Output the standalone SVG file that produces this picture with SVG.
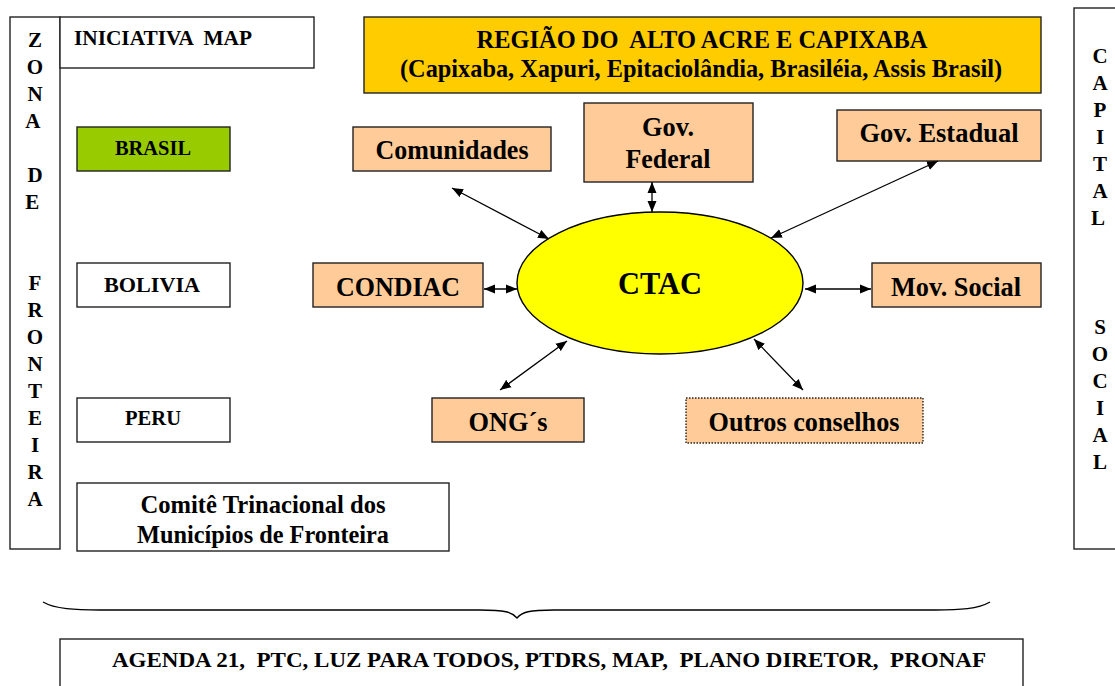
<svg xmlns="http://www.w3.org/2000/svg" width="1115" height="686" viewBox="0 0 1115 686">
<style>
  .box{stroke:#222;stroke-width:1.4;}
  .plain{fill:#fff;}
  .peach{fill:#FFCC99;}
  .t{font-family:"Liberation Serif","Times New Roman",serif;font-weight:bold;fill:#000;text-anchor:middle;}
  .s20{font-size:20px;}
  .s21{font-size:21px;}
  .s22{font-size:22px;}
  .s25{font-size:25px;}
  .s28{font-size:28px;}
  .s31{font-size:31px;}
  .conn line{stroke:#000;stroke-width:1.3;marker-start:url(#ah);marker-end:url(#ah);}
</style>
<defs>
  <marker id="ah" markerUnits="userSpaceOnUse" markerWidth="12" markerHeight="10" refX="11" refY="4.5" orient="auto-start-reverse" viewBox="0 0 12 9">
    <path d="M0,0 L11,4.5 L0,9 z" fill="#000"/>
  </marker>
</defs>
<rect width="1115" height="686" fill="#fff"/>

<g id="zona-fronteira">
  <rect class="box plain" x="10" y="17" width="50" height="532"/>
  <text class="t s21">
    <tspan x="35" y="47">Z</tspan><tspan x="35" y="74">O</tspan><tspan x="35" y="101">N</tspan><tspan x="35" y="128">A</tspan>
    <tspan x="35" y="182">D</tspan><tspan x="35" y="209">E</tspan>
    <tspan x="35" y="290">F</tspan><tspan x="35" y="317">R</tspan><tspan x="35" y="344">O</tspan><tspan x="35" y="371">N</tspan><tspan x="35" y="398">T</tspan><tspan x="35" y="425">E</tspan><tspan x="35" y="452">I</tspan><tspan x="35" y="479">R</tspan><tspan x="35" y="506">A</tspan>
  </text>
</g>

<g id="iniciativa-map">
  <rect class="box plain" x="60" y="17" width="254" height="51"/>
  <text class="t s22" x="74" y="45" style="text-anchor:start" textLength="178" lengthAdjust="spacingAndGlyphs" xml:space="preserve">INICIATIVA  MAP</text>
</g>

<g id="capital-social">
  <rect class="box plain" x="1074" y="8" width="60" height="541"/>
  <text class="t s21">
    <tspan x="1100" y="63">C</tspan><tspan x="1100" y="90">A</tspan><tspan x="1100" y="117">P</tspan><tspan x="1100" y="144">I</tspan><tspan x="1100" y="171">T</tspan><tspan x="1100" y="198">A</tspan><tspan x="1100" y="225">L</tspan>
    <tspan x="1100" y="334">S</tspan><tspan x="1100" y="361">O</tspan><tspan x="1100" y="388">C</tspan><tspan x="1100" y="415">I</tspan><tspan x="1100" y="442">A</tspan><tspan x="1100" y="469">L</tspan>
  </text>
</g>

<g id="regiao">
  <rect class="box" x="364" y="17" width="677" height="76" fill="#FFCC00"/>
  <text class="t s25" x="702" y="48" textLength="451" lengthAdjust="spacingAndGlyphs" xml:space="preserve">REGIÃO DO  ALTO ACRE E CAPIXABA</text>
  <text class="t s25" x="701" y="77" textLength="602" lengthAdjust="spacingAndGlyphs">(Capixaba, Xapuri, Epitaciolândia, Brasiléia, Assis Brasil)</text>
</g>

<g id="brasil">
  <rect class="box" x="77" y="127" width="153" height="44" fill="#99CC00"/>
  <text class="t s22" x="153" y="155" textLength="76" lengthAdjust="spacingAndGlyphs">BRASIL</text>
</g>
<g id="bolivia">
  <rect class="box plain" x="77" y="263" width="153" height="44"/>
  <text class="t s22" x="152" y="292" textLength="96" lengthAdjust="spacingAndGlyphs">BOLIVIA</text>
</g>
<g id="peru">
  <rect class="box plain" x="77" y="398" width="153" height="44"/>
  <text class="t s22" x="153" y="425" textLength="56" lengthAdjust="spacingAndGlyphs">PERU</text>
</g>
<g id="comite">
  <rect class="box plain" x="77" y="483" width="372" height="68"/>
  <text class="t s25" x="263" y="513" textLength="245" lengthAdjust="spacingAndGlyphs">Comitê Trinacional dos</text>
  <text class="t s25" x="263" y="543" textLength="252" lengthAdjust="spacingAndGlyphs">Municípios de Fronteira</text>
</g>

<g id="comunidades">
  <rect class="box peach" x="353" y="127" width="198" height="44"/>
  <text class="t s28" x="452" y="159" textLength="153" lengthAdjust="spacingAndGlyphs">Comunidades</text>
</g>
<g id="gov-federal">
  <rect class="box peach" x="584" y="103" width="169" height="79"/>
  <text class="t s28" x="668" y="136" textLength="52" lengthAdjust="spacingAndGlyphs">Gov.</text>
  <text class="t s28" x="668" y="168" textLength="85" lengthAdjust="spacingAndGlyphs">Federal</text>
</g>
<g id="gov-estadual">
  <rect class="box peach" x="837" y="110" width="204" height="51"/>
  <text class="t s28" x="939" y="142" textLength="159" lengthAdjust="spacingAndGlyphs">Gov. Estadual</text>
</g>
<g id="condiac">
  <rect class="box peach" x="313" y="263" width="170" height="44"/>
  <text class="t s28" x="398" y="296" textLength="124" lengthAdjust="spacingAndGlyphs">CONDIAC</text>
</g>
<g id="ctac">
  <ellipse cx="660" cy="283" rx="143" ry="71" fill="#FFFF00" stroke="#000" stroke-width="1.4"/>
  <text class="t s31" x="660" y="294" textLength="84" lengthAdjust="spacingAndGlyphs">CTAC</text>
</g>
<g id="mov-social">
  <rect class="box peach" x="872" y="263" width="169" height="44"/>
  <text class="t s28" x="956" y="296" textLength="130" lengthAdjust="spacingAndGlyphs">Mov. Social</text>
</g>
<g id="ongs">
  <rect class="box peach" x="432" y="398" width="152" height="44"/>
  <text class="t s28" x="508" y="431" textLength="79" lengthAdjust="spacingAndGlyphs">ONG´s</text>
</g>
<g id="outros-conselhos">
  <rect x="686" y="398" width="237" height="45" fill="#FFCC99" stroke="#222" stroke-width="1.4" stroke-dasharray="1.5 1.5"/>
  <text class="t s28" x="804" y="431" textLength="191" lengthAdjust="spacingAndGlyphs">Outros conselhos</text>
</g>

<g id="connectors" class="conn">
  <line x1="452" y1="188" x2="549" y2="239"/>
  <line x1="652" y1="182" x2="652" y2="212"/>
  <line x1="938" y1="161" x2="771" y2="238"/>
  <line x1="484" y1="289" x2="517" y2="289"/>
  <line x1="805" y1="289" x2="871" y2="289"/>
  <line x1="500" y1="390" x2="567" y2="341"/>
  <line x1="754" y1="339" x2="803" y2="390"/>
</g>

<g id="chave">
  <path d="M43,602 C55,609 75,610 100,610 L480,610 C505,610 512,612 517,618 C522,612 529,610 554,610 L935,610 C960,610 978,609 990,602" fill="none" stroke="#000" stroke-width="1.3"/>
</g>

<g id="programas">
  <rect class="box plain" x="60" y="639" width="963" height="60"/>
  <text class="t s20" x="549" y="667" textLength="874" lengthAdjust="spacingAndGlyphs" xml:space="preserve">AGENDA 21,  PTC, LUZ PARA TODOS, PTDRS, MAP,  PLANO DIRETOR,  PRONAF</text>
</g>
</svg>
